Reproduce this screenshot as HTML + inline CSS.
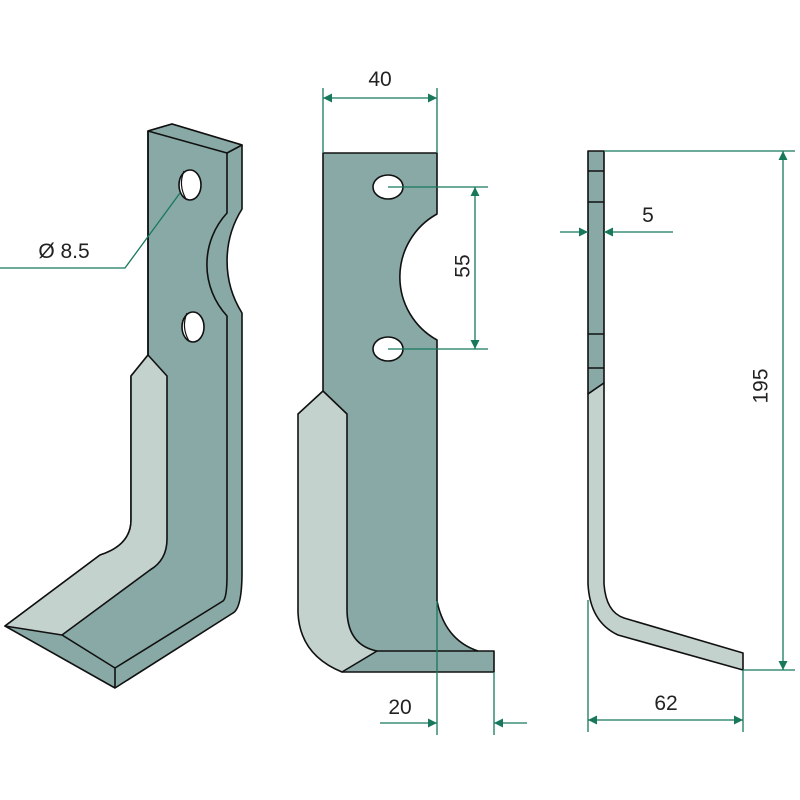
<!DOCTYPE html>
<html><head><meta charset="utf-8"><style>html,body{margin:0;padding:0;background:#fff}svg{display:block}</style></head>
<body>
<svg width="800" height="800" viewBox="0 0 800 800" xmlns="http://www.w3.org/2000/svg">
<defs>
<marker id="a" viewBox="0 0 10 10" refX="10" refY="5" markerWidth="14" markerHeight="9" markerUnits="userSpaceOnUse" orient="auto-start-reverse"><path d="M0,0 L10,5 L0,10 z" fill="#17785c"/></marker>
</defs>
<g stroke="#111" stroke-width="1.6" stroke-linejoin="round">
<!-- LEFT BLADE -->
<path d="M148,131 L172,124 L242,145 L242,209 A98,98 0 0 0 242,313 L242,572 Q242,608 233,613 L115,688 L5,626 L100,555 Q131,545 131,520 L131,376 L148,355 Z" fill="#88a9a5"/>
<path d="M148,131 L172,124 L242,145 L227,153 Z" fill="#88a9a5"/>
<path d="M227,153 L227,213 A76,76 0 0 0 227,316 L227,575 Q227,598 223,601 L115,668 L62,635" fill="none"/>
<path d="M115,668 L115,688 M148,131 L148,355" fill="none"/>
<path d="M148,355 L131,376 L131,520 Q131,545 100,555 L5,626 L62,635 L150,570 Q167,560 167,539 L167,376 Z" fill="#c4d2ce"/>
<ellipse cx="190" cy="185" rx="11" ry="15" fill="#fff"/>
<path d="M184,171 Q178,185 186,199" fill="none" stroke-width="1.2"/>
<ellipse cx="193" cy="327" rx="11" ry="15" fill="#fff"/>
<path d="M187,313 Q181,327 189,341" fill="none" stroke-width="1.2"/>
<!-- MIDDLE BLADE -->
<path d="M323,153 L437,153 L437,214 A72,72 0 0 0 437,340 L437,601 Q445,640 478,651 L494,651 L494,672 L342,672 L323,391 Z" fill="#88a9a5"/>
<path d="M323,391 L298,414 L298,613 Q300,655 342,672 L377,651 Q347,645 347,609 L347,414 Z" fill="#c4d2ce"/>
<path d="M377,651 L478,651" fill="none"/>
<ellipse cx="388" cy="187" rx="15" ry="12" fill="#fff"/>
<ellipse cx="388" cy="349" rx="15" ry="12" fill="#fff"/>
<!-- RIGHT BLADE -->
<path d="M588,151 L604,151 L604,383 L588,394 Z" fill="#88a9a5"/>
<path d="M588,171 H604 M588,202 H604 M588,334 H604 M588,368 H604" fill="none"/>
<path d="M588,394 L604,383 L604,584 Q606,612 624,618 L743,653 L743,670 L618,635 Q590,622 588,584 Z" fill="#c4d2ce"/>
</g>
<!-- DIMENSIONS -->
<g stroke="#17785c" stroke-width="1.3" fill="none">
<path d="M0,268 L125,268 L180,193"/>
<path d="M323,88 V153 M437,88 V153"/>
<path d="M323,98 H437" marker-start="url(#a)" marker-end="url(#a)"/>
<path d="M388,187 H488 M388,349 H488"/>
<path d="M475,187 V349" marker-start="url(#a)" marker-end="url(#a)"/>
<path d="M437,601 V735 M494,672 V735"/>
<path d="M380,723 H437" marker-end="url(#a)"/>
<path d="M527,723 H494" marker-end="url(#a)"/>
<path d="M604,151 H795 M743,670 H795"/>
<path d="M783,151 V670" marker-start="url(#a)" marker-end="url(#a)"/>
<path d="M560,232 H588" marker-end="url(#a)"/>
<path d="M673,232 H604" marker-end="url(#a)"/>
<path d="M588,600 V732 M743,670 V732"/>
<path d="M588,720 H743" marker-start="url(#a)" marker-end="url(#a)"/>
</g>
<g font-family="'Liberation Sans', sans-serif" font-size="21" fill="#222" text-anchor="middle">
<text x="64" y="258">Ø 8.5</text>
<text x="380" y="86">40</text>
<text x="464" y="266" transform="rotate(-90 464 266)" dominant-baseline="middle">55</text>
<text x="400" y="714">20</text>
<text x="648" y="222">5</text>
<text x="762" y="386" transform="rotate(-90 762 386)" dominant-baseline="middle">195</text>
<text x="666" y="710">62</text>
</g>
</svg>
</body></html>
